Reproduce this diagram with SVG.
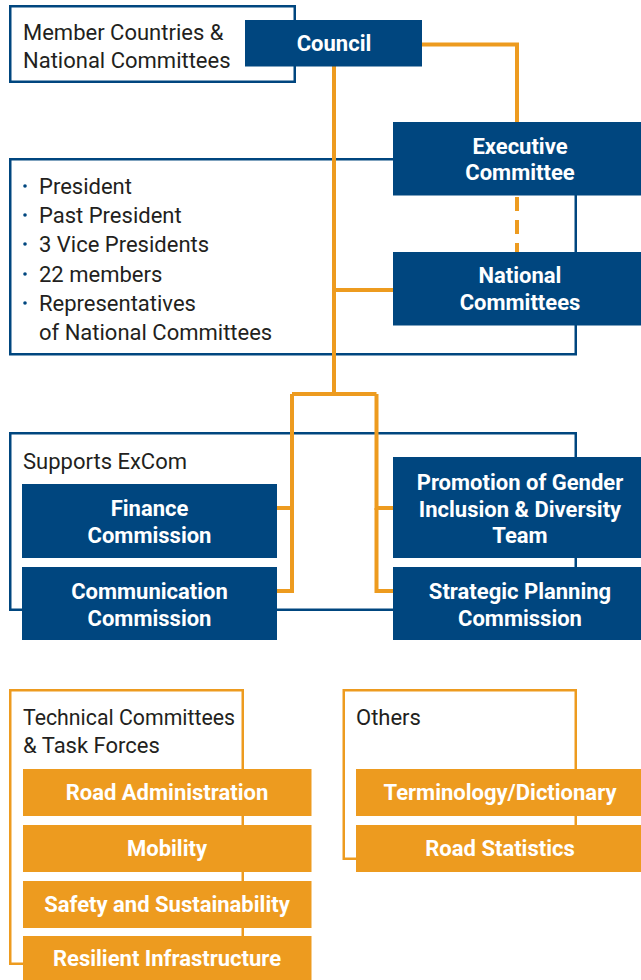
<svg xmlns="http://www.w3.org/2000/svg" width="641" height="980" viewBox="0 0 641 980">
<style>
.bg{fill:#ffffff}
.frameB{fill:#ffffff;stroke:#00467f;stroke-width:2.5}
.frameO{fill:#ffffff;stroke:#ed9b1f;stroke-width:2.5}
.nb{fill:#00467f}
.no{fill:#ed9b1f}
.lbl{font-family:Roboto,"Liberation Sans",sans-serif;font-size:22px;fill:#231f20}
.bt{font-family:Roboto,"Liberation Sans",sans-serif;font-size:22px;font-weight:bold;fill:#ffffff;text-anchor:middle}
.conn{fill:none;stroke:#ed9b1f;stroke-width:4}
.dash{stroke-dasharray:14 9}
.dot{fill:#00467f}
</style>
<rect class="bg" x="0" y="0" width="641" height="980"/>

<g id="frames">
  <g id="member-frame">
    <rect class="frameB" x="10.25" y="6.25" width="284.5" height="75.5"/>
    <text class="lbl" x="23" y="40">Member Countries &amp;</text>
    <text class="lbl" x="23" y="68">National Committees</text>
  </g>
  <g id="excom-members">
    <rect class="frameB" x="10.25" y="159.25" width="565.5" height="195"/>
    <circle class="dot" cx="25" cy="186" r="1.8"/>
    <text class="lbl" x="39" y="194">President</text>
    <circle class="dot" cx="25" cy="215" r="1.8"/>
    <text class="lbl" x="39" y="223">Past President</text>
    <circle class="dot" cx="25" cy="244" r="1.8"/>
    <text class="lbl" x="39" y="252">3 Vice Presidents</text>
    <circle class="dot" cx="25" cy="274" r="1.8"/>
    <text class="lbl" x="39" y="282">22 members</text>
    <circle class="dot" cx="25" cy="303" r="1.8"/>
    <text class="lbl" x="39" y="311">Representatives</text>
    <text class="lbl" x="39" y="340">of National Committees</text>
  </g>
  <g id="supports-frame">
    <rect class="frameB" x="10.25" y="433.25" width="565.5" height="176.5"/>
    <text class="lbl" x="23" y="469">Supports ExCom</text>
  </g>
  <g id="technical-frame">
    <rect class="frameO" x="10.25" y="690.25" width="232.5" height="273.5"/>
    <text class="lbl" x="23" y="725" textLength="212" lengthAdjust="spacingAndGlyphs">Technical Committees</text>
    <text class="lbl" x="23" y="753">&amp; Task Forces</text>
  </g>
  <g id="others-frame">
    <rect class="frameO" x="343.75" y="690.25" width="232" height="168.5"/>
    <text class="lbl" x="356" y="725">Others</text>
  </g>
</g>

<g id="connectors">
  <path class="conn" d="M422,44.5 H517 V122"/>
  <path class="conn dash" d="M517,197 V252"/>
  <path class="conn" d="M334,66 V394"/>
  <path class="conn" d="M334,290 H393"/>
  <path class="conn" d="M292,394 H376.5"/>
  <path class="conn" d="M277,508 H292 V394"/>
  <path class="conn" d="M277,591 H292 V508"/>
  <path class="conn" d="M393,508 H376.5 V394"/>
  <path class="conn" d="M393,591 H376.5 V508"/>
</g>

<g id="council">
  <rect class="nb" x="245" y="20" width="177" height="46.5"/>
  <text class="bt" x="334" y="51">Council</text>
</g>
<g id="executive-committee">
  <rect class="nb" x="393" y="122" width="248" height="73.5"/>
  <text class="bt" x="520" y="154">Executive</text>
  <text class="bt" x="520" y="180">Committee</text>
</g>
<g id="national-committees">
  <rect class="nb" x="393" y="252" width="248" height="73.5"/>
  <text class="bt" x="520" y="283">National</text>
  <text class="bt" x="520" y="310">Committees</text>
</g>
<g id="finance-commission">
  <rect class="nb" x="22" y="484" width="255" height="74"/>
  <text class="bt" x="149.5" y="516">Finance</text>
  <text class="bt" x="149.5" y="543">Commission</text>
</g>
<g id="communication-commission">
  <rect class="nb" x="22" y="567" width="255" height="73"/>
  <text class="bt" x="149.5" y="599">Communication</text>
  <text class="bt" x="149.5" y="626">Commission</text>
</g>
<g id="gender-team">
  <rect class="nb" x="393" y="457" width="248" height="101"/>
  <text class="bt" x="520" y="490">Promotion of Gender</text>
  <text class="bt" x="520" y="517">Inclusion &amp; Diversity</text>
  <text class="bt" x="520" y="543">Team</text>
</g>
<g id="strategic-planning">
  <rect class="nb" x="393" y="567" width="248" height="73"/>
  <text class="bt" x="520" y="599">Strategic Planning</text>
  <text class="bt" x="520" y="626">Commission</text>
</g>

<g id="road-administration">
  <rect class="no" x="23" y="769" width="288.5" height="47"/>
  <text class="bt" x="167" y="800">Road Administration</text>
</g>
<g id="mobility">
  <rect class="no" x="23" y="825" width="288.5" height="47"/>
  <text class="bt" x="167" y="856">Mobility</text>
</g>
<g id="safety-sustainability">
  <rect class="no" x="23" y="881" width="288.5" height="47"/>
  <text class="bt" x="167" y="912">Safety and Sustainability</text>
</g>
<g id="resilient-infrastructure">
  <rect class="no" x="23" y="936" width="288.5" height="44"/>
  <text class="bt" x="167" y="966">Resilient Infrastructure</text>
</g>
<g id="terminology">
  <rect class="no" x="356" y="769" width="285" height="47"/>
  <text class="bt" x="500" y="800">Terminology/Dictionary</text>
</g>
<g id="road-statistics">
  <rect class="no" x="356" y="825" width="285" height="47"/>
  <text class="bt" x="500" y="856">Road Statistics</text>
</g>
</svg>
